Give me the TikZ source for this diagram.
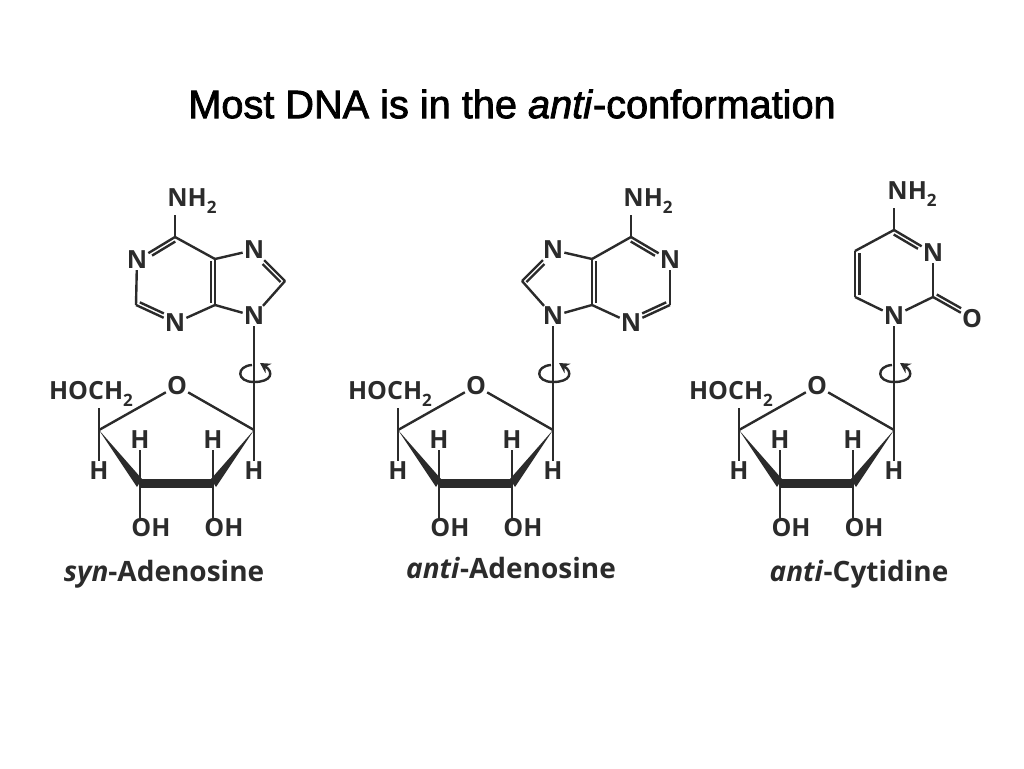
\documentclass[tikz,border=0pt]{standalone}
\usepackage{fontspec}
\setmainfont{Open Sans}
\newfontfamily\titlefont{Liberation Sans}[FakeBold=2]
\usepackage{tikz}
\usetikzlibrary{arrows.meta}
\definecolor{ink}{HTML}{2B2B2B}
\newcommand{\subtwo}{\raisebox{-.3em}{\fontsize{17}{17}\selectfont 2}}
\tikzset{
  atom/.style={text=ink,font=\fontsize{25}{27}\selectfont\bfseries,inner sep=1pt},
  molname/.style={text=ink,font=\fontsize{28}{30}\selectfont\bfseries,inner sep=0pt,anchor=base},
  bond/.style={draw=ink,line width=2.4pt}
}
\begin{document}
\begin{tikzpicture}
  [x=1pt,y=-1pt]
  \useasboundingbox (0,0) rectangle (1024,768);
  \node[font=\titlefont\fontsize{39.7}{44}\selectfont,text=black,inner sep=0pt] (title) at (512,104) {Most DNA is in the \textit{anti}-conformation};

  % syn adenine
  \node[atom] (a-nh) at (192,201) {NH\subtwo};
  \coordinate (a-c6) at (175,237);
  \node[atom] (a-n1) at (137,260) {N};
  \coordinate (a-c2) at (136,305);
  \node[atom] (a-n3) at (175,323) {N};
  \coordinate (a-c4) at (215,305);
  \coordinate (a-c5) at (215,259);
  \node[atom] (a-n7) at (254,250) {N};
  \coordinate (a-c8) at (285,281);
  \node[atom] (a-n9) at (254,316) {N};

  % anti adenine
  \node[atom] (b-nh) at (648,201) {NH\subtwo};
  \coordinate (b-c6) at (631,237);
  \node[atom] (b-n1) at (670,260) {N};
  \coordinate (b-c2) at (670,305);
  \node[atom] (b-n3) at (631,323) {N};
  \coordinate (b-c4) at (592,305);
  \coordinate (b-c5) at (592,259);
  \node[atom] (b-n7) at (553,250) {N};
  \coordinate (b-c8) at (522,281);
  \node[atom] (b-n9) at (553,316) {N};

  % cytosine
  \node[atom] (c-nh) at (912,194) {NH\subtwo};
  \coordinate (c-c4) at (894,230);
  \node[atom] (c-n3) at (933,253) {N};
  \coordinate (c-c2) at (933,297);
  \node[atom] (c-o) at (972,319) {O};
  \node[atom] (c-n1) at (894,316) {N};
  \coordinate (c-c6) at (855,297);
  \coordinate (c-c5) at (855,251);

  \foreach \from/\to in {a-c6/a-n1,a-n1/a-c2,a-c2/a-n3,a-n3/a-c4,a-c4/a-c5,a-c5/a-c6,a-c5/a-n7,a-n7/a-c8,a-c8/a-n9,a-n9/a-c4,
                         b-c6/b-n1,b-n1/b-c2,b-c2/b-n3,b-n3/b-c4,b-c4/b-c5,b-c5/b-c6,b-c5/b-n7,b-n7/b-c8,b-c8/b-n9,b-n9/b-c4,
                         c-c4/c-n3,c-n3/c-c2,c-c2/c-n1,c-n1/c-c6,c-c6/c-c5,c-c5/c-c4,c-c2/c-o}
    \draw[bond] (\from) -- (\to);
  \draw[bond] (a-c6) -- (a-c6 |- a-nh.south);
  \draw[bond] (b-c6) -- (b-c6 |- b-nh.south);
  \draw[bond] (c-c4) -- (c-c4 |- c-nh.south);

  % second lines of the double bonds
  \foreach \from/\to/\dx/\dy in {a-c6/a-n1/2/-3.5,a-c2/a-n3/2/3.5,a-c4/a-c5/-4/0,a-n7/a-c8/-3/-2.5,
                                 b-c6/b-n1/-2/-3.5,b-c2/b-n3/-2/3.5,b-c4/b-c5/4/0,b-n7/b-c8/3/-2.5,
                                 c-c4/c-n3/-2/-3.5,c-c6/c-c5/4.5/0,c-c2/c-o/2/3.5}
    \draw[bond,shorten <=2pt,shorten >=2pt,transform canvas={xshift=\dx pt,yshift=\dy pt}] (\from) -- (\to);

  % the three sugars
  \foreach \s/\dx/\base in {a/0/a-n9,b/299/b-n9,c/640/c-n1}{
    \begin{scope}[xshift=\dx pt]
      \node[atom] (\s-o) at (177,386) {O};
      \node[atom] (\s-hoch) at (91,394) {HOCH\subtwo};
      \coordinate (\s-s4) at (99,430);
      \coordinate (\s-s1) at (254,430);
      \coordinate (\s-s3) at (140,483);
      \coordinate (\s-s2) at (213,483);
      \node[atom] (\s-h4) at (99,471) {H};
      \node[atom] (\s-h3) at (140,440) {H};
      \node[atom] (\s-h2) at (213,440) {H};
      \node[atom] (\s-h1) at (254,471) {H};
      \node[atom] (\s-oh3) at (151,528) {OH};
      \node[atom] (\s-oh2) at (224,528) {OH};

      \foreach \from/\to in {\s-s4/\s-o,\s-o/\s-s1,\s-s4/\s-h4,\s-s1/\s-h1,\s-s3/\s-h3,\s-s2/\s-h2,\s-s1/\base}
        \draw[bond] (\from) -- (\to);
      \draw[bond] (\s-s4) -- (\s-s4 |- \s-hoch.south);
      \draw[bond] (\s-s3) -- (\s-s3 |- \s-oh3.north);
      \draw[bond] (\s-s2) -- (\s-s2 |- \s-oh2.north);

      % thick front edge of the ring
      \draw[draw=ink,line width=9pt] (\s-s3) ++(-1,0) -- ([xshift=1pt]\s-s2);
      \fill[ink] (\s-s4) -- ([shift={(2,-4)}]\s-s3) -- ([shift={(-3,4)}]\s-s3) -- cycle;
      \fill[ink] (\s-s1) -- ([shift={(-2,-4)}]\s-s2) -- ([shift={(3,4)}]\s-s2) -- cycle;

      % rotation about the glycosidic bond
      \draw[draw=ink,line width=2.4pt,-{Stealth[length=10pt,width=11pt]}] (252,365) .. controls (236,366) and (236,382) .. (254,382)
        .. controls (272,382) and (274,372) .. (260,363);
    \end{scope}
  }

  \node[molname] (a-name) at (164,581) {\textit{syn}-Adenosine};
  \node[molname] (b-name) at (511,578) {\textit{anti}-Adenosine};
  \node[molname] (c-name) at (859,581) {\textit{anti}-Cytidine};
\end{tikzpicture}
\end{document}
